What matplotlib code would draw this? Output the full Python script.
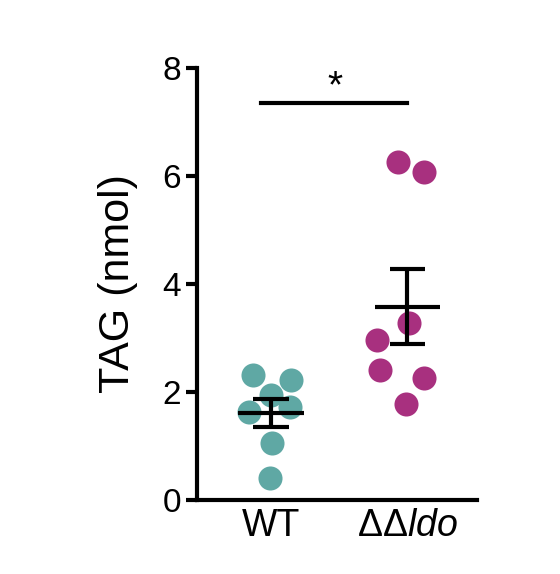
import numpy as np
import matplotlib
matplotlib.use("Agg")
import matplotlib.pyplot as plt

plt.rcParams['font.family'] = ['Liberation Sans', 'DejaVu Sans']
plt.rcParams['mathtext.fontset'] = 'custom'
plt.rcParams['mathtext.rm'] = 'Liberation Sans'
plt.rcParams['mathtext.it'] = 'Liberation Sans:italic'

groups = ['WT', r'$\Delta\Delta\mathit{ldo}$']
wt = [2.31, 2.22, 1.94, 1.63, 1.72, 1.06, 0.41]
wt_dx = [-0.13, 0.15, 0.0, -0.16, 0.14, 0.01, -0.01]
ldo = [6.26, 6.07, 3.28, 2.96, 2.41, 2.26, 1.78]
ldo_dx = [-0.07, 0.12, 0.01, -0.22, -0.2, 0.12, -0.01]
colors = ['#5fa8a4', '#a8307f']

fig = plt.figure(figsize=(5.6, 5.74), dpi=100)
ax = fig.add_axes([0.352, 0.129, 0.5, 0.753])

for i, (vals, dx) in enumerate([(wt, wt_dx), (ldo, ldo_dx)]):
    vals = np.array(vals)
    ax.scatter(i + np.array(dx), vals, s=300, color=colors[i], zorder=2, linewidths=0)
    m = vals.mean()
    sem = vals.std(ddof=1) / np.sqrt(len(vals))
    ax.hlines(m, i - 0.24, i + 0.24, color='black', lw=3, zorder=3)
    ax.hlines([m - sem, m + sem], i - 0.13, i + 0.13, color='black', lw=3, zorder=3)
    ax.vlines(i, m - sem, m + sem, color='black', lw=3, zorder=3)

ax.plot([-0.07, 1.0], [7.35, 7.35], color='black', lw=3)
ax.text(0.47, 7.3, '*', ha='center', va='bottom', fontsize=28)

ax.set_xlim(-0.54, 1.51)
ax.set_ylim(0, 8)
ax.set_yticks([0, 2, 4, 6, 8])
ax.set_xticks([0, 1])
ax.set_xticklabels(groups)
ax.set_ylabel('TAG (nmol)', fontsize=31, labelpad=18)
ax.tick_params(labelsize=24, width=3, length=8)
ax.tick_params(axis='x', length=0, labelsize=27, pad=6)
for s in ['top', 'right']:
    ax.spines[s].set_visible(False)
for s in ['left', 'bottom']:
    ax.spines[s].set_linewidth(3)

fig.savefig('out.png', dpi=100)
